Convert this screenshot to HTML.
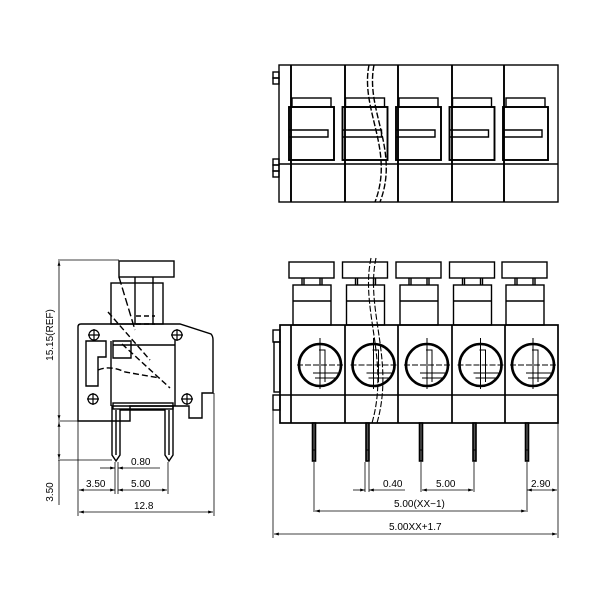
<!DOCTYPE html>
<html><head><meta charset="utf-8"><style>
html,body{margin:0;padding:0;background:#fff;}
svg{display:block;}
text{font-family:"Liberation Sans",sans-serif;font-size:10px;fill:#000;}
</style></head><body>
<svg width="600" height="600" viewBox="0 0 600 600" xmlns="http://www.w3.org/2000/svg">
<defs>
<marker id="a" viewBox="0 0 10 10" refX="10" refY="5" markerWidth="6" markerHeight="6" orient="auto-start-reverse"><path d="M0,2 L10,5 L0,8 z" fill="#000"/></marker>
</defs>
<g fill="none" stroke="#000" stroke-width="1.4">
<!-- TOP VIEW -->
<rect x="279" y="65" width="279" height="137"/>
<line x1="279" y1="164" x2="558" y2="164"/>
<g stroke-width="1.9">
<line x1="291" y1="65" x2="291" y2="202"/><line x1="345" y1="65" x2="345" y2="202"/>
<line x1="398" y1="65" x2="398" y2="202"/><line x1="452" y1="65" x2="452" y2="202"/>
<line x1="504" y1="65" x2="504" y2="202"/>
</g>
<rect x="273" y="72" width="6" height="6"/><rect x="273" y="78" width="6" height="6"/>
<rect x="273" y="159" width="6" height="6"/><rect x="273" y="165" width="6" height="6"/><rect x="273" y="171" width="6" height="6"/>
<g id="tb">
<rect x="292" y="98" width="39" height="9"/>
<rect x="289" y="107" width="45" height="53" stroke-width="1.9"/>
<path d="M289,130 H328 V137 H289"/>
</g>
<use href="#tb" x="53.5"/><use href="#tb" x="107"/><use href="#tb" x="160.5"/><use href="#tb" x="214"/>
<path d="M369,65 C360,110 395,150 375,202" stroke-dasharray="6,2"/>
<path d="M374,65 C365,110 400,150 380,202" stroke-dasharray="6,2"/>

<!-- FRONT VIEW -->
<rect x="280" y="325" width="278" height="98" stroke-width="1.7"/>
<line x1="280" y1="395" x2="558" y2="395"/>
<g stroke-width="1.7">
<line x1="291" y1="325" x2="291" y2="423"/><line x1="345" y1="325" x2="345" y2="423"/>
<line x1="398" y1="325" x2="398" y2="423"/><line x1="452" y1="325" x2="452" y2="423"/>
<line x1="505" y1="325" x2="505" y2="423"/>
</g>
<rect x="273" y="330" width="7" height="12"/><rect x="274" y="342" width="6" height="50"/><rect x="273" y="395" width="7" height="15"/>
<g id="fb">
<rect x="289" y="262" width="45" height="16"/>
<line x1="302" y1="278" x2="302" y2="285"/><line x1="304" y1="278" x2="304" y2="285"/>
<line x1="320" y1="278" x2="320" y2="285"/><line x1="322" y1="278" x2="322" y2="285"/>
<rect x="293" y="285" width="38" height="40"/>
<line x1="293" y1="301" x2="331" y2="301"/>
<circle cx="320" cy="365" r="21" stroke-width="2.6"/>
<line x1="297" y1="365" x2="343" y2="365" stroke-dasharray="6,2" stroke-width="1"/>
<line x1="320" y1="338" x2="320" y2="389" stroke-width="1"/>
<path d="M319,350 H325 V382 M313,373 H340 M315,378 H338" stroke-width="1"/>
<rect x="312.5" y="423" width="3" height="38" stroke-width="1.6" fill="#555"/>
<line x1="312" y1="450" x2="316" y2="450" stroke-width="1"/>
</g>
<use href="#fb" x="53.5"/><use href="#fb" x="107"/><use href="#fb" x="160.5"/><use href="#fb" x="213"/>
<path d="M371,258 C360,310 390,360 372,423" stroke-dasharray="6,2" stroke-width="1.1"/>
<path d="M376,258 C365,310 395,360 377,423" stroke-dasharray="6,2" stroke-width="1.1"/>

<!-- front dims -->
<g stroke-width="0.8">
<line x1="273" y1="410" x2="273" y2="538"/><line x1="558" y1="423" x2="558" y2="538"/>
<line x1="314" y1="462" x2="314" y2="512"/><line x1="527" y1="462" x2="527" y2="512"/>
<line x1="365" y1="462" x2="365" y2="492"/><line x1="369" y1="462" x2="369" y2="492"/>
<line x1="421" y1="462" x2="421" y2="492"/><line x1="474" y1="462" x2="474" y2="492"/>
<line x1="274" y1="534" x2="557" y2="534" marker-start="url(#a)" marker-end="url(#a)"/>
<line x1="315" y1="511" x2="526" y2="511" marker-start="url(#a)" marker-end="url(#a)"/>
<line x1="422" y1="490" x2="473" y2="490" marker-start="url(#a)" marker-end="url(#a)"/>
<line x1="353" y1="490" x2="365" y2="490" marker-end="url(#a)"/>
<line x1="369" y1="490" x2="405" y2="490" marker-start="url(#a)"/>
<line x1="527" y1="490" x2="557" y2="490" marker-start="url(#a)" marker-end="url(#a)"/>
</g>

<!-- SIDE VIEW -->
<rect x="119" y="261" width="55" height="16"/>
<rect x="111" y="283" width="52" height="41"/>
<line x1="135" y1="277" x2="135" y2="324"/><line x1="153" y1="277" x2="153" y2="324"/>
<path d="M81,324 H180 L211,334 Q213,336 213,340 V393 H202 V418 H189 V406 H130 V421 H78 V327 Q78,324 81,324 Z"/>
<path d="M86,341 H106 V357 H98 V386 H86 Z"/>
<path d="M113,341 H131 V358 H113 Z M111,341 V406 M175,340 V406 M113,345 H175"/>
<path d="M122,344 L170,388 M108,312 L150,360" stroke-dasharray="6,3"/>
<path d="M119,277 L135,330" stroke-dasharray="8,3"/>
<path d="M136,316 H155 M136,324 H155" stroke-dasharray="5,3"/>
<path d="M98,370 Q110,365 125,372 L160,378" stroke-dasharray="6,3"/>
<g stroke-width="1.2">
<circle cx="94" cy="335" r="5"/><path d="M88,335 H100 M94,329 V341"/>
<circle cx="177" cy="335" r="5"/><path d="M171,335 H183 M177,329 V341"/>
<circle cx="93" cy="399" r="5"/><path d="M87,399 H99 M93,393 V405"/>
<circle cx="187" cy="399" r="5"/><path d="M181,399 H193 M187,393 V405"/>
</g>
<path d="M112,406 V455 L116,461 L120,455 V410 H165 V455 L169,461 L173,455 V406 Z"/>
<rect x="113" y="403" width="60" height="6"/>
<line x1="116" y1="410" x2="116" y2="455"/><line x1="169" y1="410" x2="169" y2="455"/>
<!-- side dims -->
<g stroke-width="0.8">
<line x1="58" y1="260" x2="119" y2="260"/>
<line x1="58" y1="421" x2="90" y2="421"/>
<line x1="58" y1="460" x2="112" y2="460"/>
<line x1="59" y1="261" x2="59" y2="420" marker-start="url(#a)" marker-end="url(#a)"/>
<line x1="59" y1="422" x2="59" y2="459" marker-start="url(#a)" marker-end="url(#a)"/>
<line x1="59" y1="460" x2="59" y2="505"/>
<line x1="78" y1="421" x2="78" y2="516"/><line x1="214" y1="393" x2="214" y2="516"/>
<line x1="115" y1="462" x2="115" y2="494"/><line x1="118" y1="462" x2="118" y2="494"/><line x1="168" y1="462" x2="168" y2="494"/>
<line x1="79" y1="512" x2="213" y2="512" marker-start="url(#a)" marker-end="url(#a)"/>
<line x1="79" y1="490" x2="115" y2="490" marker-start="url(#a)" marker-end="url(#a)"/>
<line x1="118" y1="490" x2="167" y2="490" marker-start="url(#a)" marker-end="url(#a)"/>
<line x1="100" y1="468" x2="115" y2="468" marker-end="url(#a)"/>
<line x1="118" y1="468" x2="160" y2="468" marker-start="url(#a)"/>
</g>
</g>
<text x="131" y="465">0.80</text>
<text x="86" y="487">3.50</text>
<text x="131" y="487">5.00</text>
<text x="134" y="509">12.8</text>
<text transform="translate(53,335) rotate(-90)" text-anchor="middle">15.15(REF)</text>
<text transform="translate(53,492) rotate(-90)" text-anchor="middle">3.50</text>
<text x="383" y="487">0.40</text>
<text x="436" y="487">5.00</text>
<text x="531" y="487">2.90</text>
<text x="394" y="507">5.00(XX−1)</text>
<text x="389" y="530">5.00XX+1.7</text>
</svg>
</body></html>
